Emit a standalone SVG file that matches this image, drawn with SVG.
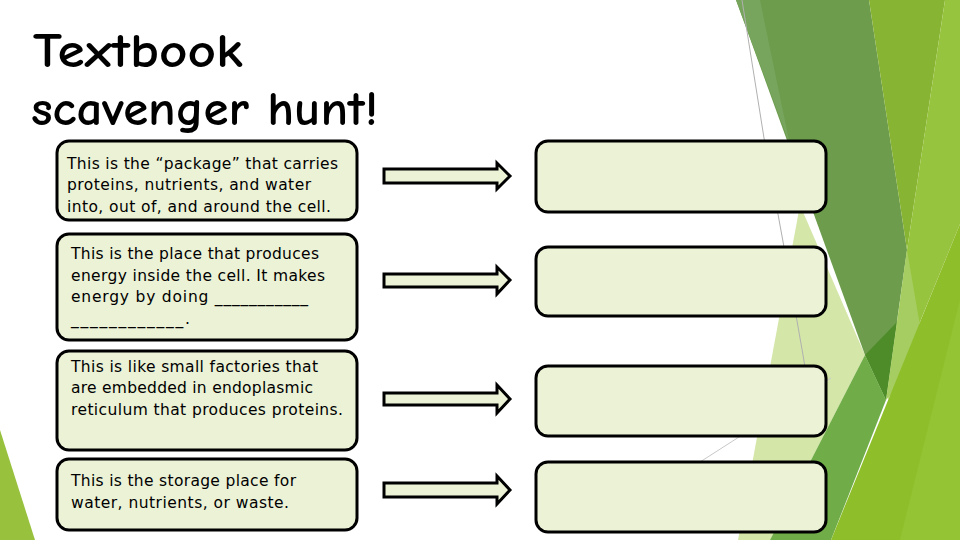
<svg xmlns="http://www.w3.org/2000/svg" width="960" height="540" viewBox="0 0 960 540">
<style>
.box{fill:#ebf2d6;stroke:#000;stroke-width:3}
.arr{fill:#ebf2d6;stroke:#000;stroke-width:3;stroke-linejoin:miter}
.t{font-family:"DejaVu Sans",Verdana,sans-serif;font-size:15.5px;fill:#000}
.title{font-family:"Comic Neue","DejaVu Sans",sans-serif;font-size:48px;font-weight:700;fill:#000}
</style>
<rect width="960" height="540" fill="#fff"/>
<g id="background">
  <polygon points="800,205 865,355 770,540 738,540" fill="#d4e6a8"/>
  <polygon points="736,0 869,0 907,250 886,400 865,355" fill="#6c9c4c"/>
  <polygon points="736,0 760,0 790,145" fill="#77a55d"/>
  <polygon points="865,355 897,322 886,400" fill="#4e8c2a"/>
  <polygon points="869,0 945,0 907,250" fill="#87b432"/>
  <polygon points="945,0 960,0 960,224 888,400 907,250" fill="#97c43e"/>
  <polygon points="907,250 925,355 886,400" fill="#a6cd62"/>
  <polygon points="865,355 886,400 831,540 770,540" fill="#70ad48"/>
  <polygon points="960,224 960,540 831,540" fill="#8fbe2b"/>
  <polygon points="960,300 960,540 900,540" fill="#94c334"/>
  <polyline points="742,0 764,138 784,247 803,355 812,410" fill="none" stroke="#b0b0b0" stroke-width="1"/>
  <line x1="831" y1="378" x2="700" y2="462" stroke="#c8c8c8" stroke-width="1"/>
  <polygon points="0,430 35,540 0,540" fill="#98c23e"/>
</g>
<g id="title">
  <text class="title" x="33" y="67" textLength="210" lengthAdjust="spacingAndGlyphs">Textbook</text>
  <text class="title" x="31" y="125" textLength="347" lengthAdjust="spacingAndGlyphs">scavenger hunt!</text>
</g>
<g id="q1">
  <rect class="box" x="57" y="141" width="300" height="79" rx="12"/>
  <text class="t" x="67" y="169" textLength="271" lengthAdjust="spacing">This is the “package” that carries</text>
  <text class="t" x="67" y="190" textLength="244" lengthAdjust="spacing">proteins, nutrients, and water</text>
  <text class="t" x="67" y="212" textLength="264" lengthAdjust="spacing">into, out of, and around the cell.</text>
</g>
<g id="q2">
  <rect class="box" x="57" y="234" width="300" height="106" rx="12"/>
  <text class="t" x="71" y="259" textLength="248" lengthAdjust="spacing">This is the place that produces</text>
  <text class="t" x="71" y="281" textLength="254" lengthAdjust="spacing">energy inside the cell. It makes</text>
  <text class="t" x="71" y="302" textLength="237" lengthAdjust="spacing">energy by doing ___________</text>
  <text class="t" x="71" y="324" textLength="119" lengthAdjust="spacing">____________.</text>
</g>
<g id="q3">
  <rect class="box" x="57" y="351" width="300" height="99" rx="12"/>
  <text class="t" x="71" y="372" textLength="247" lengthAdjust="spacing">This is like small factories that</text>
  <text class="t" x="71" y="393" textLength="242" lengthAdjust="spacing">are embedded in endoplasmic</text>
  <text class="t" x="71" y="415" textLength="272" lengthAdjust="spacing">reticulum that produces proteins.</text>
</g>
<g id="q4">
  <rect class="box" x="57" y="459" width="300" height="71" rx="12"/>
  <text class="t" x="71" y="486" textLength="225" lengthAdjust="spacing">This is the storage place for</text>
  <text class="t" x="71" y="508" textLength="218" lengthAdjust="spacing">water, nutrients, or waste.</text>
</g>
<g id="a1"><rect class="box" x="536" y="141" width="290" height="71" rx="12"/></g>
<g id="a2"><rect class="box" x="536" y="247" width="290" height="69" rx="12"/></g>
<g id="a3"><rect class="box" x="536" y="366" width="290" height="70" rx="12"/></g>
<g id="a4"><rect class="box" x="536" y="462" width="290" height="70" rx="12"/></g>
<g id="connectors">
  <polygon class="arr" points="384,169 497,169 497,163 510,176 497,189 497,183 384,183"/>
  <polygon class="arr" points="384,274 497,274 497,267 510,280 497,294 497,287 384,287"/>
  <polygon class="arr" points="384,393 497,393 497,385 510,399 497,413 497,405 384,405"/>
  <polygon class="arr" points="384,483 497,483 497,476 510,490 497,504 497,497 384,497"/>
</g>
</svg>
